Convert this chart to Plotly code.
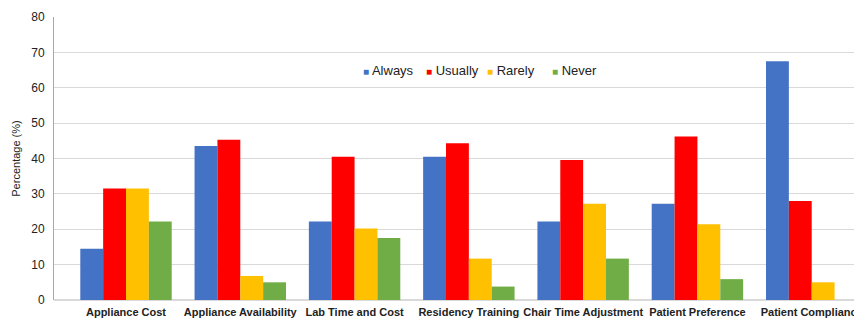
import plotly.graph_objects as go

categories = ["Appliance Cost", "Appliance Availability", "Lab Time and Cost",
              "Residency Training", "Chair Time Adjustment", "Patient Preference",
              "Patient Compliance"]
always = [14.5, 43.5, 22.2, 40.5, 22.2, 27.2, 67.5]
usually = [31.5, 45.3, 40.5, 44.3, 39.6, 46.2, 28.0]
rarely = [31.5, 6.8, 20.2, 11.7, 27.2, 21.4, 5.0]
never = [22.2, 5.0, 17.5, 3.8, 11.7, 5.9, 0.0]

series = [("Always", always, "#4472C4"),
          ("Usually", usually, "#FF0000"),
          ("Rarely", rarely, "#FFC000"),
          ("Never", never, "#70AD47")]

# compact legend: small coloured square directly followed by the series name
legend_x = [0.384, 0.463, 0.539, 0.620]

fig = go.Figure()
for name, vals, color in series:
    fig.add_trace(go.Bar(name=name, x=categories, y=vals, marker_color=color,
                         marker_line_width=0, showlegend=False))

for (name, _, color), lx in zip(series, legend_x):
    fig.add_annotation(
        x=lx, y=0.81, xref="paper", yref="paper", xanchor="left", yanchor="middle",
        text=f"<span style='color:{color}; font-size:10px'>■</span> {name}",
        showarrow=False, font=dict(size=13, color="#222"),
    )

fig.update_layout(
    width=854, height=320,
    margin=dict(l=54, r=0, t=17, b=20),
    paper_bgcolor="white", plot_bgcolor="white",
    barmode="group", bargap=0.2, bargroupgap=0,
    font=dict(family="Liberation Sans, Arial, sans-serif", color="#222"),
    showlegend=False,
)
fig.update_xaxes(range=[-0.63, 6.37], showgrid=False, showline=False, ticks="",
                 tickfont=dict(size=11, color="#222", weight="bold"),
                 ticklabelstandoff=4, automargin=False)
fig.update_yaxes(range=[0, 80], dtick=10, showgrid=True, gridcolor="#D9D9D9",
                 gridwidth=1, showline=True, linecolor="#8FAADC", linewidth=1,
                 zeroline=True, zerolinecolor="#D9D9D9", ticks="",
                 tickfont=dict(size=12, color="#222"), ticklabelstandoff=6,
                 title=dict(text="Percentage (%)", font=dict(size=11, color="#222"),
                            standoff=8),
                 automargin=False)

fig.write_html("out.html")
